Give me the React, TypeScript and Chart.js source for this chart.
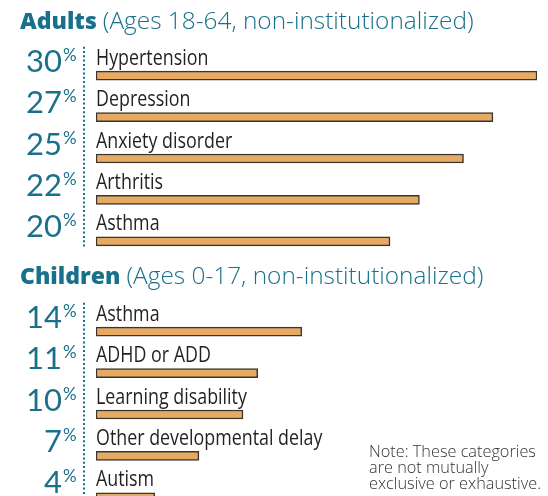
import React, { useEffect, useRef } from "react";
import { Chart, registerables } from "chart.js";

Chart.register(...registerables);

const adultCategories = ["Hypertension", "Depression", "Anxiety disorder", "Arthritis", "Asthma"];
const adultValues = [30, 27, 25, 22, 20];
const childCategories = ["Asthma", "ADHD or ADD", "Learning disability", "Other developmental delay", "Autism"];
const childValues = [14, 11, 10, 7, 4];
const adultTitle = "Adults";
const adultSubtitle = "(Ages 18-64, non-institutionalized)";
const childTitle = "Children";
const childSubtitle = "(Ages 0-17, non-institutionalized)";
const noteLines = ["Note: These categories", "are not mutually", "exclusive or exhaustive."];
const axisMax = 30;

const TEAL = "#18708a";
const BAR = "#E6AA62";
const BORDER = "#3b3530";
const TEXT = "#231f20";

const decor = {
  id: "decor",
  afterDraw(chart: any, _args: any, opts: any) {
    const ctx = chart.ctx as any;
    const xs = chart.scales.x;
    const ys = chart.scales.y;
    const labels = chart.data.labels as string[];
    const values = chart.data.datasets[0].data as number[];
    ctx.save();
    ctx.textBaseline = "alphabetic";
    // header
    ctx.fillStyle = TEAL;
    ctx.textAlign = "left";
    ctx.font = "800 23px 'Open Sans'";
    ctx.fillText(opts.title, 20, opts.titleY);
    const w = ctx.measureText(opts.title).width;
    ctx.font = "300 24.4px 'Open Sans'";
    ctx.fillText(opts.subtitle, 20 + w + 6, opts.titleY);

    // dotted line
    const top = ys.getPixelForValue(0) - 29;
    const bottom = ys.getPixelForValue(labels.length - 1) + 6;
    ctx.strokeStyle = TEAL;
    ctx.lineWidth = 2;
    ctx.setLineDash([2, 2.3]);
    ctx.beginPath();
    ctx.moveTo(84, top);
    ctx.lineTo(84, bottom);
    ctx.stroke();
    ctx.setLineDash([]);

    labels.forEach((lab, i) => {
      const cy = ys.getPixelForValue(i);
      ctx.fillStyle = TEXT;
      ctx.textAlign = "left";
      ctx.font = "21px 'Open Sans', sans-serif";
      ctx.save();
      ctx.translate(xs.getPixelForValue(0), cy - 11);
      ctx.scale(0.85, 1);
      ctx.fillText(lab, 0, 0);
      ctx.restore();
      ctx.fillStyle = TEAL;
      ctx.textAlign = "right";
      ctx.font = "31px Lato";
      ctx.fillText(String(values[i]), 62, cy - 4);
      ctx.textAlign = "left";
      ctx.font = "17px Lato";
      ctx.fillText("%", 63, cy - 15);
    });

    if (opts.note) {
      ctx.fillStyle = "#333";
      ctx.textAlign = "left";
      ctx.font = "300 16.3px 'Open Sans'";
      (opts.note as string[]).forEach((line, i) => {
        ctx.fillText(line, 369, opts.noteY + i * 16);
      });
    }
    ctx.restore();
  },
};

function makeConfig(labels: string[], values: number[], decorOpts: any): any {
  return {
    type: "bar",
    data: {
      labels,
      datasets: [
        {
          data: values,
          backgroundColor: BAR,
          borderColor: BORDER,
          borderWidth: 1.5,
          borderSkipped: false,
          barThickness: 9,
        },
      ],
    },
    options: {
      indexAxis: "y",
      animation: false,
      responsive: false,
      devicePixelRatio: 1,
      layout: { padding: { left: 96, right: 11, top: 55, bottom: 2 } },
      scales: {
        x: { display: false, min: 0, max: axisMax },
        y: { display: false },
      },
      plugins: {
        legend: { display: false },
        tooltip: { enabled: false },
        decor: decorOpts,
      },
    },
    plugins: [decor],
  };
}

function Panel(props: { labels: string[]; values: number[]; opts: any; top: number }) {
  const ref = useRef<HTMLCanvasElement | null>(null);
  useEffect(() => {
    if (!ref.current) return;
    const chart = new Chart(ref.current, makeConfig(props.labels, props.values, props.opts));
    return () => chart.destroy();
  }, []);
  return (
    <canvas
      ref={ref}
      width={548}
      height={264}
      style={{ position: "absolute", left: 0, top: props.top, width: 548, height: 264, display: "block" }}
    />
  );
}

export default function App() {
  return (
    <div
      style={{
        position: "fixed",
        left: 0,
        top: 0,
        width: 548,
        height: 496,
        overflow: "hidden",
        background: "#ffffff",
      }}
    >
      <Panel
        labels={adultCategories}
        values={adultValues}
        top={0}
        opts={{ title: adultTitle, subtitle: adultSubtitle, titleY: 29 }}
      />
      <Panel
        labels={childCategories}
        values={childValues}
        top={256}
        opts={{ title: childTitle, subtitle: childSubtitle, titleY: 28, note: noteLines, noteY: 200.5 }}
      />
    </div>
  );
}
